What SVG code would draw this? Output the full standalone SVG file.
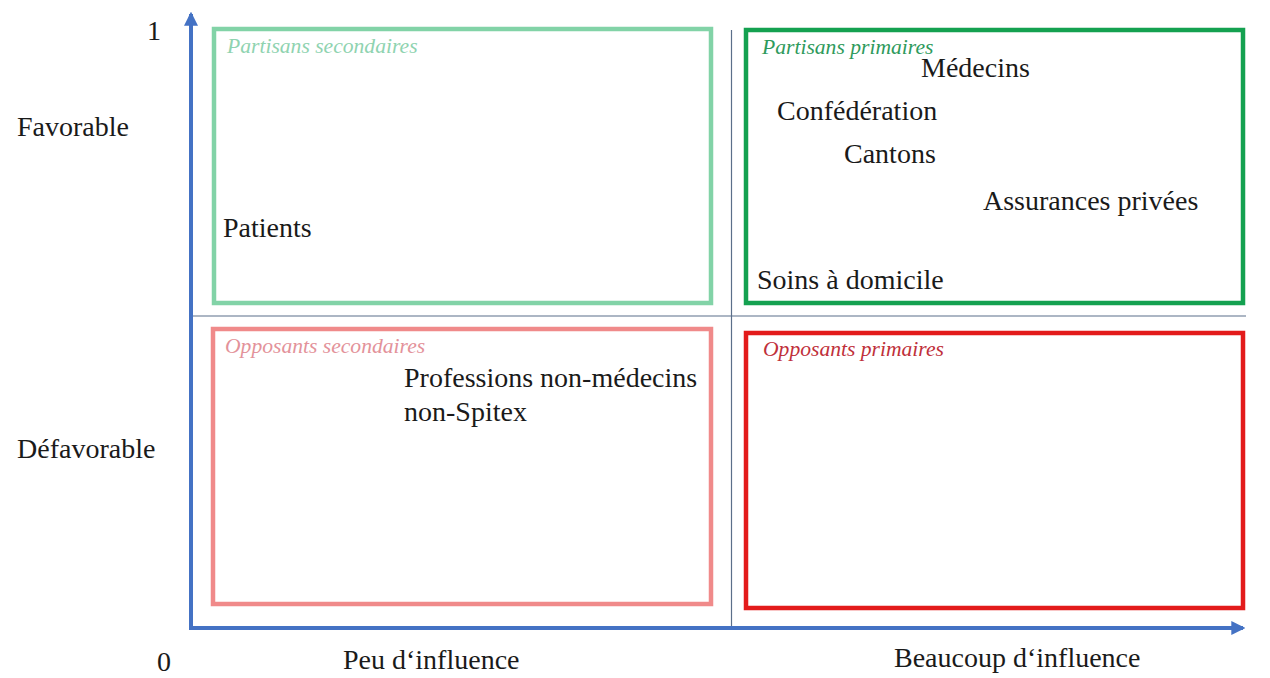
<svg xmlns="http://www.w3.org/2000/svg" width="1270" height="678" viewBox="0 0 1270 678">
  <style>
    text { font-family: 'Liberation Serif', 'DejaVu Serif', serif; }
    .lbl { font-size: 28px; fill: #1a1a1a; font-style: normal; font-weight: 400; }
    .cap { font-size: 21.6px; font-style: italic; }
    .box { fill: none; stroke-width: 4.5; }
    .axis { stroke: #4472c4; stroke-width: 4; fill: none; }
    .grid { stroke: #5b6f8a; stroke-width: 1.2; fill: none; }
  </style>
  <defs>
    <marker id="arrow" viewBox="0 0 12 12" refX="10" refY="6" markerWidth="3.5" markerHeight="3.5" orient="auto" markerUnits="strokeWidth">
      <path d="M0,0 L12,6 L0,12 Z" fill="#4472c4"/>
    </marker>
  </defs>
  <rect width="1270" height="678" fill="#ffffff"/>

  <!-- quadrant dividers and axes -->
  <g id="connectors">
    <line class="grid" x1="731.5" y1="30" x2="731.5" y2="628"/>
    <line class="grid" x1="190" y1="316" x2="1246" y2="316"/>
    <line class="axis" x1="191" y1="630" x2="191" y2="14" marker-end="url(#arrow)"/>
    <line class="axis" x1="189" y1="628" x2="1243" y2="628" marker-end="url(#arrow)"/>
  </g>

  <!-- axis labels -->
  <g id="axis-labels">
    <text class="lbl" x="147" y="40">1</text>
    <text class="lbl" x="157" y="671">0</text>
    <text class="lbl" x="17" y="136">Favorable</text>
    <text class="lbl" x="17" y="458">Défavorable</text>
    <text class="lbl" x="343" y="669">Peu d‘influence</text>
    <text class="lbl" x="894" y="667">Beaucoup d‘influence</text>
  </g>

  <!-- top-left quadrant -->
  <g id="partisans-secondaires">
    <rect class="box" x="214" y="29" width="497" height="274" stroke="#82d3a7"/>
    <text class="cap" x="227" y="53" fill="#8fd3b0">Partisans secondaires</text>
    <text class="lbl" x="223" y="237">Patients</text>
  </g>

  <!-- top-right quadrant -->
  <g id="partisans-primaires">
    <rect class="box" x="746" y="30" width="497" height="273" stroke="#14a150"/>
    <text class="cap" x="762" y="54" fill="#2e9a5c">Partisans primaires</text>
    <text class="lbl" x="921" y="77">Médecins</text>
    <text class="lbl" x="777" y="120">Confédération</text>
    <text class="lbl" x="844" y="163">Cantons</text>
    <text class="lbl" x="983" y="210">Assurances privées</text>
    <text class="lbl" x="757" y="289">Soins à domicile</text>
  </g>

  <!-- bottom-left quadrant -->
  <g id="opposants-secondaires">
    <rect class="box" x="213" y="329" width="498" height="275" stroke="#f08a8a"/>
    <text class="cap" x="225" y="353" fill="#e3929a">Opposants secondaires</text>
    <text class="lbl" x="404" y="387">Professions non-médecins</text>
    <text class="lbl" x="404" y="421">non-Spitex</text>
  </g>

  <!-- bottom-right quadrant -->
  <g id="opposants-primaires">
    <rect class="box" x="746" y="333" width="497" height="275" stroke="#e31b1b"/>
    <text class="cap" x="763" y="356" fill="#c0303a">Opposants primaires</text>
  </g>
</svg>
